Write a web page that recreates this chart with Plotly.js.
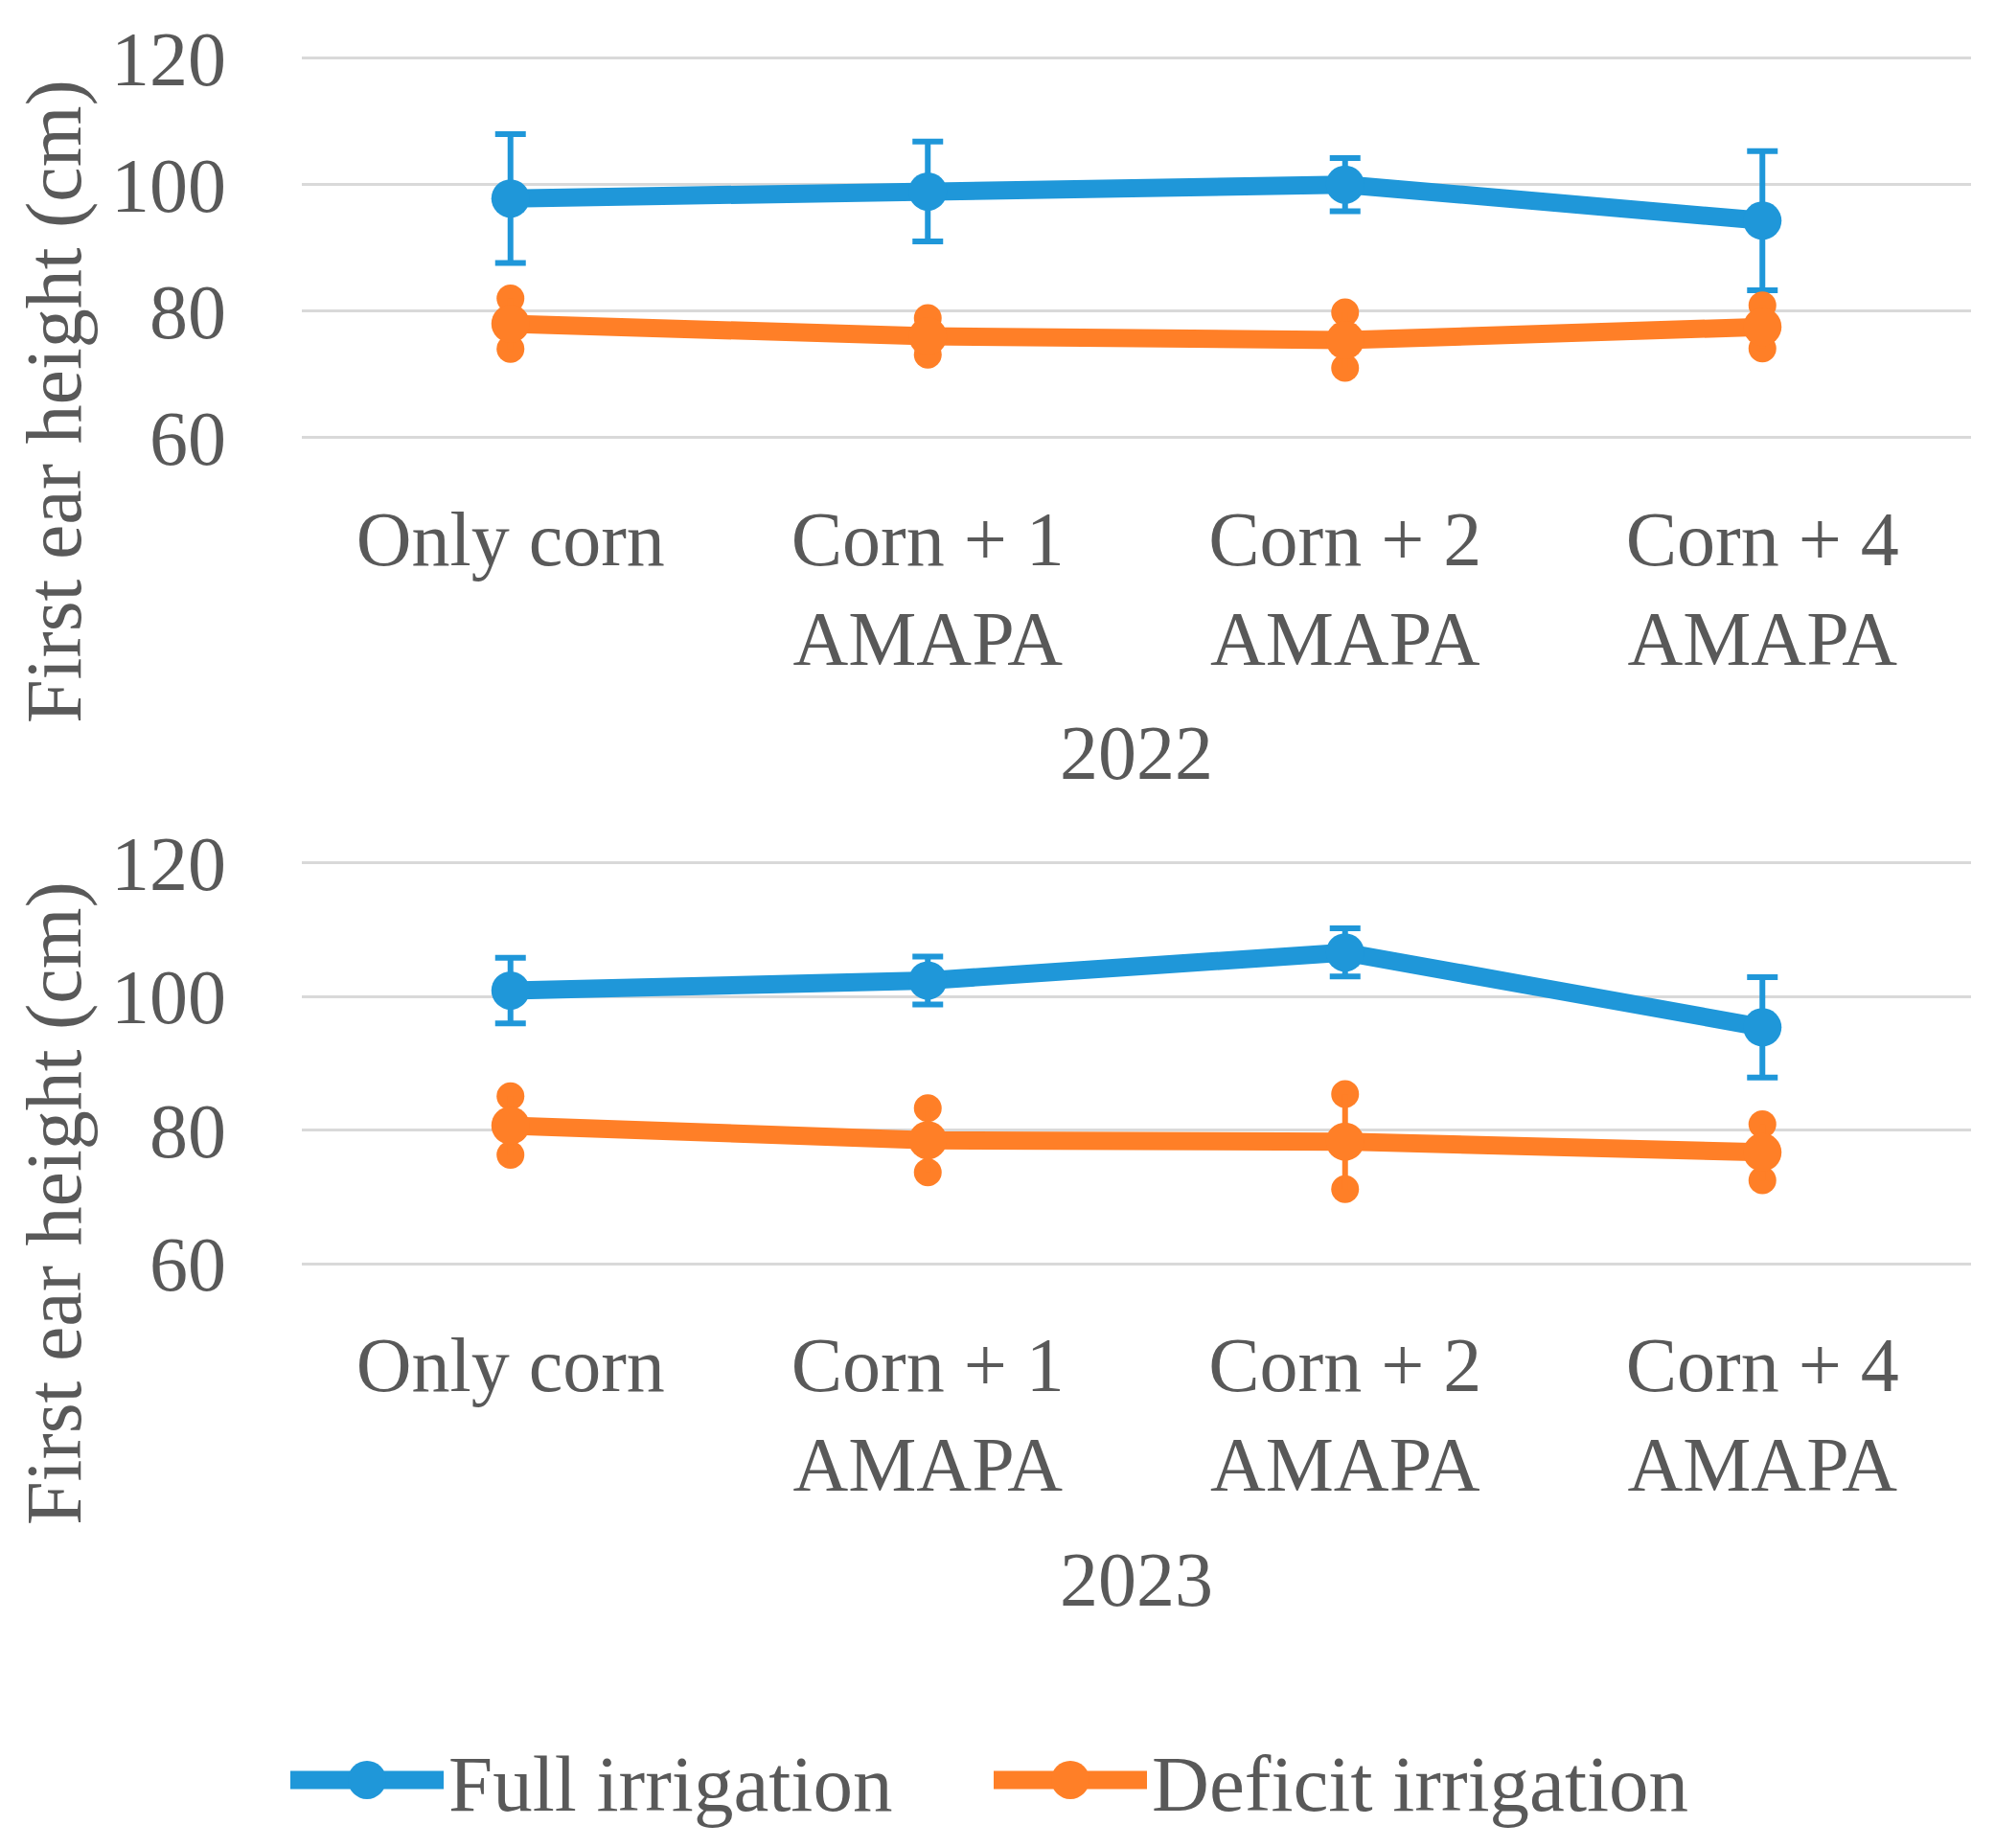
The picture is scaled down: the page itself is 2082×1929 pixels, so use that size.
<!DOCTYPE html>
<html>
<head>
<meta charset="utf-8">
<script src="https://cdn.plot.ly/plotly-3.0.1.min.js"></script>
<style>html,body{margin:0;padding:0;background:#fff;overflow:hidden;}#chart{width:2082px;height:1929px;}</style>
</head>
<body>
<div id="chart"></div>
<script>
// ---- data ----
const categories = ['Only corn', 'Corn + 1<br>AMAPA', 'Corn + 2<br>AMAPA', 'Corn + 4<br>AMAPA'];
const yTickValues = [60, 80, 100, 120];
const yearLabels = ['2022', '2023'];
const seriesNames = ['Full irrigation', 'Deficit irrigation'];

const full2022 = [97.8, 98.9, 100.0, 94.3];
const full2022Err = [10.2, 7.9, 4.2, 11.0];
const deficit2022 = [78.0, 76.0, 75.4, 77.5];
const deficit2022Err = [4.0, 2.9, 4.4, 3.4];

const full2023 = [100.9, 102.4, 106.6, 95.4];
const full2023Err = [4.9, 3.6, 3.6, 7.5];
const deficit2023 = [80.7, 78.5, 78.3, 76.7];
const deficit2023Err = [4.4, 4.8, 7.1, 4.2];

// ---- styles ----
const BLUE = '#1f97d9';
const ORANGE = '#ff7f27';
const TEXT = '#595959';
const FONT = 'Liberation Serif, Times New Roman, serif';
const FS = 80;

function fullTrace(y, err, xa, ya, showlegend) {
  return {
    type: 'scatter', mode: 'lines+markers', x: categories, y: y,
    xaxis: xa, yaxis: ya, name: seriesNames[0], legendgroup: 'full', showlegend: showlegend,
    line: {color: BLUE, width: 19},
    marker: {color: BLUE, size: 40},
    error_y: {type: 'data', array: err, visible: true, color: BLUE, thickness: 6, width: 16}
  };
}
function deficitTrace(y, err, xa, ya, showlegend) {
  return {
    type: 'scatter', mode: 'lines+markers', x: categories, y: y,
    xaxis: xa, yaxis: ya, name: seriesNames[1], legendgroup: 'deficit', showlegend: showlegend,
    line: {color: ORANGE, width: 19},
    marker: {color: ORANGE, size: 40},
    error_y: {type: 'data', array: err, visible: true, color: ORANGE, thickness: 6, width: 0}
  };
}
function deficitEnds(y, err, xa, ya) {
  // rounded error-bar ends, computed from mean +/- error
  const xs = [], ys = [];
  categories.forEach((c, i) => { xs.push(c, c); ys.push(y[i] + err[i], y[i] - err[i]); });
  return {
    type: 'scatter', mode: 'markers', x: xs, y: ys, xaxis: xa, yaxis: ya,
    showlegend: false, hoverinfo: 'skip', legendgroup: 'deficit',
    marker: {color: ORANGE, size: 29, symbol: 'circle'}
  };
}

const data = [
  fullTrace(full2022, full2022Err, 'x', 'y', true),
  deficitEnds(deficit2022, deficit2022Err, 'x', 'y'),
  deficitTrace(deficit2022, deficit2022Err, 'x', 'y', true),
  fullTrace(full2023, full2023Err, 'x2', 'y2', false),
  deficitEnds(deficit2023, deficit2023Err, 'x2', 'y2'),
  deficitTrace(deficit2023, deficit2023Err, 'x2', 'y2', false)
];

const H = 1929, W = 2082;
const PAD = 0.3; // small range padding so edge gridlines are kept
const xDomain = [315 / W, 2057 / W];
function xAxis(anchor, title) {
  return {
    domain: xDomain, anchor: anchor, type: 'category', range: [-0.5, 3.5],
    showgrid: false, zeroline: false, showline: false, ticks: '', ticklabelstandoff: 50,
    tickfont: {family: FONT, size: FS, color: TEXT},
    title: {text: title, font: {family: FONT, size: FS, color: TEXT}, standoff: 47},
    automargin: false
  };
}
function yAxis(anchor, g120, g60) {
  const ppu = (g60 - g120) / 60;
  const top = g120 - PAD * ppu, bottom = g60 + PAD * ppu;
  return {
    domain: [1 - bottom / H, 1 - top / H], anchor: anchor, range: [60 - PAD, 120 + PAD],
    tickvals: yTickValues, showgrid: true, gridcolor: '#d9d9d9', gridwidth: 3,
    zeroline: false, showline: false, ticks: '', ticklabelstandoff: 78,
    tickfont: {family: FONT, size: FS, color: TEXT}, automargin: false
  };
}

const layout = {
  width: W, height: H,
  margin: {l: 0, r: 0, t: 0, b: 0, autoexpand: false},
  paper_bgcolor: '#ffffff', plot_bgcolor: '#ffffff',
  font: {family: FONT, size: FS, color: TEXT},
  xaxis: xAxis('y', yearLabels[0]),
  yaxis: yAxis('x', 60.7, 456.7),
  xaxis2: xAxis('y2', yearLabels[1]),
  yaxis2: yAxis('x2', 900.7, 1319.3),
  showlegend: true,
  legend: {
    orientation: 'h', x: 298 / W, xanchor: 'left', y: 1 - 1858 / H, yanchor: 'middle',
    font: {family: FONT, size: 83, color: TEXT}, itemwidth: 160, entrywidth: 559,
    bgcolor: 'rgba(0,0,0,0)'
  },
  annotations: [
    {text: 'First ear height (cm)', xref: 'paper', yref: 'paper', x: 56 / W, y: 1 - 419 / H,
     xanchor: 'center', yanchor: 'middle', textangle: -90, showarrow: false,
     font: {family: FONT, size: 82, color: TEXT}},
    {text: 'First ear height (cm)', xref: 'paper', yref: 'paper', x: 56 / W, y: 1 - 1256 / H,
     xanchor: 'center', yanchor: 'middle', textangle: -90, showarrow: false,
     font: {family: FONT, size: 82, color: TEXT}}
  ]
};

Plotly.newPlot('chart', data, layout, {staticPlot: true, displayModeBar: false}).then(function (gd) {
  // enlarge the legend samples to match the thick lines / big markers of the chart
  gd.querySelectorAll('.legend .legendlines path').forEach(function (p) {
    p.style.strokeWidth = '19px';
  });
  const r = 20;
  gd.querySelectorAll('.legend .legendpoints path.scatterpts').forEach(function (p) {
    p.setAttribute('d', 'M' + r + ',0A' + r + ',' + r + ' 0 1,1 0,-' + r + 'A' + r + ',' + r + ' 0 0,1 ' + r + ',0Z');
  });
});
</script>
</body>
</html>
